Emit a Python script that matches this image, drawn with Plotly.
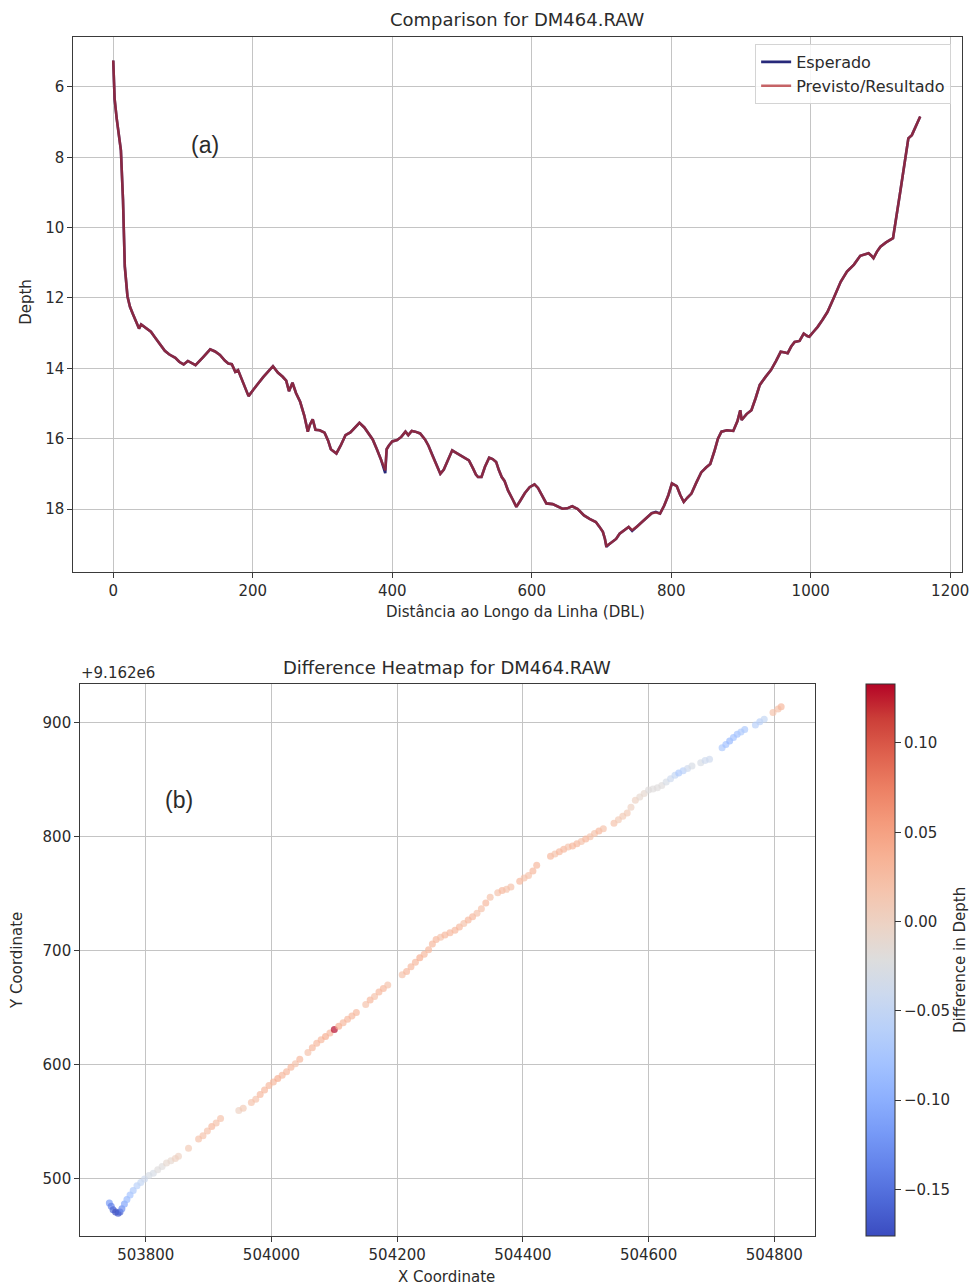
import plotly.graph_objects as go

W, H = 977, 1288

# ---- Depth profile along the survey line (panel a) ----
dbl = [0, 1, 2, 5, 8, 11, 14, 16.6, 20.4, 24, 28, 33, 37, 40, 46, 54, 61, 68, 74, 80,
       89, 95, 101, 107, 112, 118, 128, 139, 146, 153, 160, 165, 170, 175, 179, 186, 194, 205, 215, 229,
       236, 243, 248, 252, 257, 262, 268, 274, 279, 282, 286, 290, 296, 303, 308, 312, 316, 320, 326, 333,
       340, 346, 353, 360, 366, 372, 378, 384, 390, 392, 395, 400, 407, 413, 419, 423, 428, 433, 440, 447,
       452, 458, 463, 469, 474, 480, 486, 490, 496, 503, 510, 516, 520, 523, 528, 533, 539, 544, 549, 553,
       557, 561, 566, 572, 578, 584, 590, 597, 604, 609, 613, 617, 621, 630, 637, 644, 651, 658, 666, 675,
       683, 692, 697, 702, 705, 707, 711, 716, 721, 726, 732, 739, 744, 751, 758, 765, 772, 778, 784, 790,
       796, 801, 808, 813, 818, 823, 829, 836, 843, 850, 856, 862, 867, 872, 880, 889, 895, 899, 901, 908,
       915, 921, 927, 935, 943, 950, 957, 963, 967, 972, 977, 984, 990, 995, 998, 1004, 1010, 1017, 1024, 1033,
       1043, 1052, 1062, 1071, 1078, 1083, 1087, 1090, 1095, 1100, 1108, 1118, 1129, 1140, 1145, 1150, 1157]

depth_expected = [5.25, 6.10, 6.35, 6.90, 7.40, 7.80, 9.20, 11.10, 11.95, 12.25, 12.45, 12.70, 12.87, 12.75, 12.85, 12.96, 13.15, 13.34, 13.50, 13.60,
                  13.70, 13.82, 13.89, 13.79, 13.85, 13.91, 13.70, 13.46, 13.52, 13.62, 13.78, 13.86, 13.88, 14.10, 14.05, 14.40, 14.79, 14.50, 14.25, 13.94,
                  14.12, 14.24, 14.35, 14.65, 14.41, 14.70, 14.95, 15.35, 15.80, 15.60, 15.45, 15.75, 15.76, 15.83, 16.05, 16.30, 16.35, 16.42, 16.20, 15.90,
                  15.82, 15.70, 15.55, 15.68, 15.85, 16.02, 16.30, 16.60, 16.98, 16.30, 16.20, 16.08, 16.04, 15.95, 15.80, 15.90, 15.78, 15.80, 15.85, 16.02,
                  16.20, 16.50, 16.75, 17.00, 16.88, 16.60, 16.33, 16.38, 16.45, 16.52, 16.62, 16.85, 17.02, 17.09, 17.09, 16.80, 16.54, 16.58, 16.66, 16.90,
                  17.09, 17.20, 17.47, 17.70, 17.94, 17.75, 17.55, 17.38, 17.30, 17.40, 17.55, 17.70, 17.84, 17.86, 17.92, 17.99, 17.98, 17.92, 18.00, 18.18,
                  18.28, 18.37, 18.50, 18.65, 18.85, 19.07, 19.00, 18.93, 18.85, 18.70, 18.60, 18.51, 18.62, 18.50, 18.37, 18.25, 18.12, 18.08, 18.13, 17.90,
                  17.60, 17.27, 17.35, 17.60, 17.80, 17.68, 17.56, 17.25, 16.96, 16.82, 16.72, 16.35, 16.00, 15.80, 15.76, 15.78, 15.50, 15.19, 15.47, 15.30,
                  15.19, 14.85, 14.47, 14.25, 14.05, 13.80, 13.53, 13.55, 13.57, 13.38, 13.25, 13.22, 13.01, 13.08, 13.10, 12.96, 12.82, 12.62, 12.40, 12.00,
                  11.54, 11.25, 11.05, 10.80, 10.75, 10.73, 10.80, 10.87, 10.68, 10.54, 10.42, 10.30, 8.90, 7.46, 7.37, 7.15, 6.84]

depth_predicted = [5.25, 6.10, 6.33, 6.90, 7.40, 7.80, 9.20, 11.10, 11.95, 12.25, 12.45, 12.70, 12.87, 12.75, 12.85, 12.96, 13.15, 13.34, 13.50, 13.60,
                   13.70, 13.82, 13.89, 13.79, 13.85, 13.91, 13.70, 13.46, 13.52, 13.62, 13.78, 13.86, 13.88, 14.10, 14.05, 14.40, 14.79, 14.50, 14.25, 13.94,
                   14.12, 14.24, 14.35, 14.65, 14.41, 14.70, 14.95, 15.35, 15.80, 15.60, 15.45, 15.75, 15.76, 15.83, 16.05, 16.30, 16.35, 16.42, 16.20, 15.90,
                   15.82, 15.70, 15.55, 15.68, 15.85, 16.02, 16.30, 16.60, 16.90, 16.30, 16.20, 16.08, 16.04, 15.95, 15.80, 15.90, 15.78, 15.80, 15.85, 16.02,
                   16.20, 16.50, 16.75, 17.00, 16.88, 16.60, 16.33, 16.38, 16.45, 16.52, 16.62, 16.85, 17.02, 17.09, 17.09, 16.80, 16.54, 16.58, 16.66, 16.90,
                   17.09, 17.20, 17.47, 17.70, 17.94, 17.75, 17.55, 17.38, 17.30, 17.40, 17.55, 17.70, 17.84, 17.86, 17.92, 17.99, 17.98, 17.92, 18.00, 18.18,
                   18.28, 18.37, 18.50, 18.65, 18.85, 19.05, 19.00, 18.93, 18.85, 18.70, 18.60, 18.51, 18.60, 18.50, 18.37, 18.25, 18.12, 18.10, 18.13, 17.90,
                   17.60, 17.27, 17.35, 17.60, 17.80, 17.68, 17.56, 17.25, 16.96, 16.82, 16.72, 16.35, 16.00, 15.80, 15.76, 15.78, 15.50, 15.19, 15.47, 15.30,
                   15.19, 14.85, 14.47, 14.25, 14.05, 13.80, 13.53, 13.55, 13.57, 13.38, 13.25, 13.22, 13.01, 13.08, 13.10, 12.96, 12.82, 12.62, 12.40, 12.00,
                   11.54, 11.25, 11.05, 10.80, 10.75, 10.73, 10.80, 10.87, 10.68, 10.54, 10.42, 10.30, 8.90, 7.46, 7.37, 7.15, 6.84]

# ---- Track positions (UTM) and depth difference at each sounding (panel b) ----
pos_x = [503742, 503745, 503748, 503752, 503756, 503759, 503762, 503766, 503770, 503775,
         503780, 503786, 503792, 503798, 503805, 503812, 503819, 503826, 503833, 503840,
         503847, 503852, 503868, 503884, 503891, 503898, 503905, 503912, 503919, 503948,
         503955, 503968, 503975, 503982, 503989, 503996, 504003, 504010, 504017, 504024,
         504031, 504038, 504045, 504058, 504065, 504072, 504079, 504086, 504093, 504100,
         504107, 504114, 504121, 504128, 504135, 504150, 504157, 504164, 504171, 504178,
         504185, 504208, 504215, 504222, 504229, 504236, 504243, 504250, 504256, 504262,
         504269, 504276, 504284, 504292, 504299, 504306, 504313, 504320, 504327, 504334,
         504341, 504348, 504360, 504367, 504374, 504381, 504395, 504402, 504409, 504416,
         504422, 504444, 504451, 504458, 504465, 504472, 504479, 504486, 504493, 504500,
         504507, 504514, 504521, 504528, 504545, 504552, 504559, 504566, 504572, 504579,
         504586, 504593, 504600, 504607, 504614, 504621, 504628, 504635, 504642, 504648,
         504655, 504662, 504669, 504683, 504690, 504697, 504717, 504723, 504729, 504735,
         504741, 504747, 504753, 504770, 504777, 504784, 504798, 504806, 504811]

pos_y = [9162479, 9162476, 9162473, 9162471, 9162470, 9162471, 9162474, 9162478, 9162482, 9162486,
         9162490, 9162494, 9162497, 9162500, 9162503, 9162505, 9162508, 9162511, 9162514, 9162516,
         9162518, 9162520, 9162527, 9162535, 9162538, 9162542, 9162546, 9162549, 9162553, 9162560,
         9162562, 9162567, 9162570, 9162574, 9162578, 9162582, 9162585, 9162588, 9162591, 9162594,
         9162598, 9162601, 9162605, 9162611, 9162615, 9162619, 9162622, 9162625, 9162628, 9162631,
         9162634, 9162637, 9162640, 9162643, 9162646, 9162653, 9162657, 9162660, 9162664, 9162667,
         9162670, 9162679, 9162682, 9162686, 9162690, 9162694, 9162697, 9162701, 9162706, 9162710,
         9162712, 9162714, 9162716, 9162718, 9162721, 9162724, 9162727, 9162730, 9162733, 9162737,
         9162742, 9162747, 9162751, 9162753, 9162754, 9162756, 9162761, 9162764, 9162766, 9162770,
         9162775, 9162783, 9162785, 9162787, 9162789, 9162791, 9162792, 9162794, 9162796, 9162798,
         9162800, 9162803, 9162805, 9162807, 9162812, 9162815, 9162818, 9162821, 9162826, 9162832,
         9162835, 9162838, 9162841, 9162842, 9162843, 9162845, 9162848, 9162851, 9162854, 9162856,
         9162858, 9162860, 9162862, 9162865, 9162867, 9162868, 9162878, 9162881, 9162884, 9162887,
         9162890, 9162892, 9162894, 9162898, 9162901, 9162903, 9162909, 9162912, 9162914]

depth_diff = [-0.12, -0.14, -0.16, -0.176, -0.17, -0.16, -0.13, -0.11, -0.09, -0.08,
              -0.07, -0.06, -0.05, -0.04, -0.03, -0.03, -0.02, -0.02, -0.01, -0.01,
              0.00, 0.00, 0.01, 0.02, 0.02, 0.02, 0.03, 0.02, 0.02, 0.00,
              0.01, 0.02, 0.02, 0.03, 0.03, 0.03, 0.03, 0.04, 0.03, 0.03,
              0.03, 0.02, 0.03, 0.02, 0.03, 0.03, 0.03, 0.04, 0.03, 0.133,
              0.04, 0.03, 0.03, 0.03, 0.03, 0.02, 0.03, 0.02, 0.03, 0.03,
              0.02, 0.02, 0.03, 0.03, 0.03, 0.04, 0.03, 0.03, 0.03, 0.03,
              0.02, 0.03, 0.03, 0.03, 0.03, 0.02, 0.03, 0.03, 0.02, 0.02,
              0.03, 0.02, 0.02, 0.03, 0.02, 0.02, 0.03, 0.02, 0.02, 0.03,
              0.03, 0.03, 0.02, 0.03, 0.03, 0.02, 0.03, 0.03, 0.02, 0.03,
              0.02, 0.02, 0.03, 0.02, 0.02, 0.01, 0.01, 0.01, 0.00, 0.00,
              -0.01, -0.01, -0.02, -0.02, -0.02, -0.02, -0.03, -0.04, -0.05, -0.07,
              -0.06, -0.04, -0.03, -0.03, -0.04, -0.04, -0.07, -0.08, -0.09, -0.08,
              -0.08, -0.07, -0.07, -0.06, -0.06, -0.05, 0.02, 0.02, 0.03]

y_offset = 9.162e6
y_ticks = [500, 600, 700, 800, 900]
cbar_ticks = [-0.15, -0.10, -0.05, 0.00, 0.05, 0.10]

# matplotlib "coolwarm" diverging map
coolwarm = [
    [0.0, "rgb(59,76,192)"], [0.0625, "rgb(77,104,215)"], [0.125, "rgb(98,130,234)"],
    [0.1875, "rgb(119,154,247)"], [0.25, "rgb(141,176,254)"], [0.3125, "rgb(163,194,255)"],
    [0.375, "rgb(184,208,249)"], [0.4375, "rgb(204,217,238)"], [0.5, "rgb(221,221,221)"],
    [0.5625, "rgb(236,211,197)"], [0.625, "rgb(245,196,173)"], [0.6875, "rgb(247,177,148)"],
    [0.75, "rgb(244,154,123)"], [0.8125, "rgb(236,127,99)"], [0.875, "rgb(222,96,77)"],
    [0.9375, "rgb(203,62,56)"], [1.0, "rgb(180,4,38)"],
]

FONT = "DejaVu Sans"
TXT = "#2b2b2b"


def px(x):
    return x / W


def py(y):
    return 1 - y / H


fig = go.Figure()

fig.add_trace(go.Scatter(
    x=dbl, y=depth_expected, mode="lines", name="Esperado",
    line=dict(color="#27297a", width=2.6), xaxis="x", yaxis="y"))
fig.add_trace(go.Scatter(
    x=dbl, y=depth_predicted, mode="lines", name="Previsto/Resultado",
    line=dict(color="rgba(176,40,44,0.72)", width=2.6), xaxis="x", yaxis="y"))

fig.add_trace(go.Scatter(
    x=pos_x, y=pos_y, mode="markers", showlegend=False, xaxis="x2", yaxis="y2",
    marker=dict(
        color=depth_diff, colorscale=coolwarm, cmin=-0.176, cmax=0.133,
        size=7, opacity=0.68, line=dict(width=0),
        colorbar=dict(
            x=px(872), xanchor="left", xpad=0,
            y=py(1236), yanchor="bottom", ypad=0,
            len=552 / H, lenmode="fraction", thickness=29, thicknessmode="pixels",
            outlinewidth=1, outlinecolor="#333",
            ticks="outside", ticklen=6, tickcolor="#333", tickwidth=1,
            tickvals=cbar_ticks, tickformat=".2f",
            tickfont=dict(family=FONT, size=15, color=TXT),
        ),
    ),
))

axis_common = dict(
    showgrid=True, gridcolor="#c4c4c4", gridwidth=1,
    showline=True, linecolor="#3a3a3a", linewidth=1.4, mirror=True,
    ticks="outside", ticklen=5, tickwidth=1.2, tickcolor="#3a3a3a",
    tickfont=dict(family=FONT, size=15, color=TXT),
    zeroline=False,
)

fig.update_layout(
    width=W, height=H,
    margin=dict(l=0, r=0, t=0, b=0),
    paper_bgcolor="white", plot_bgcolor="white",
    font=dict(family=FONT, size=15, color=TXT),
    xaxis=dict(domain=[px(74), px(969)], anchor="y", range=[-57, 1217],
               tickvals=[0, 200, 400, 600, 800, 1000, 1200], **axis_common),
    yaxis=dict(domain=[py(572), py(37)], anchor="x", range=[19.79, 4.58],
               tickvals=[6, 8, 10, 12, 14, 16, 18], **axis_common),
    xaxis2=dict(domain=[px(81), px(821)], anchor="y2", range=[503696, 504865],
                tickvals=[503800, 504000, 504200, 504400, 504600, 504800],
                tickformat="d", **axis_common),
    yaxis2=dict(domain=[py(1236), py(684)], anchor="x2",
                range=[y_offset + 450, y_offset + 934],
                tickvals=[y_offset + t for t in y_ticks],
                ticktext=[str(t) for t in y_ticks], **axis_common),
    legend=dict(
        x=px(958), xanchor="right", y=py(44), yanchor="top",
        bgcolor="rgba(255,255,255,0.85)", bordercolor="#d4d4d4", borderwidth=1,
        font=dict(family=FONT, size=16, color=TXT),
        itemwidth=30, tracegroupgap=0,
    ),
    showlegend=True,
)


def label(text, x, y, size=15, angle=0, xanchor="center", family=FONT):
    fig.add_annotation(
        text=text, x=px(x), y=py(y), xref="paper", yref="paper",
        xanchor=xanchor, yanchor="middle", showarrow=False, textangle=angle,
        font=dict(family=family, size=size, color=TXT))


label("Comparison for DM464.RAW", 521, 20, size=18)
label("Distância ao Longo da Linha (DBL)", 519, 612)
label("Depth", 26, 302, angle=-90)
label("(a)", 206, 145, size=23, family="Liberation Sans")

label("Difference Heatmap for DM464.RAW", 450, 667, size=18)
label("+9.162e6", 80, 673, xanchor="left")
label("Y Coordinate", 17, 960, angle=-90)
label("X Coordinate", 450, 1277)
label("(b)", 180, 800, size=23, family="Liberation Sans")
label("Difference in Depth", 967, 960, angle=-90)

fig.write_html("out.html")
